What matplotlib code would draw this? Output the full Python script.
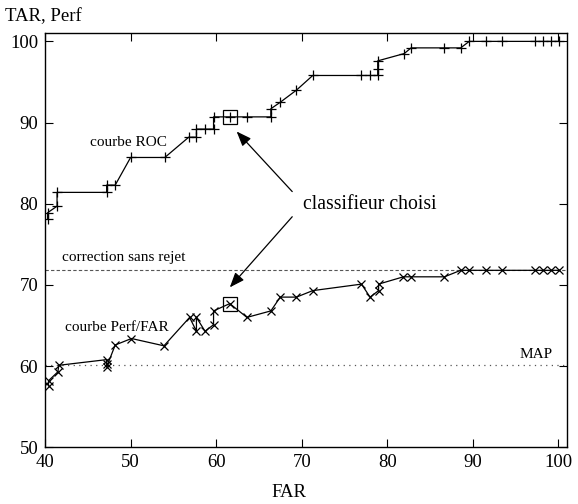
import matplotlib
matplotlib.use("Agg")
import matplotlib.pyplot as plt

plt.rcParams["font.family"] = ["Liberation Serif", "DejaVu Serif"]

# ROC curve (FAR, TAR)
roc_far = [40.3, 40.3, 41.4, 41.4, 47.2, 47.2, 48.2, 50.0, 54.0, 56.8, 57.7, 57.7,
           58.7, 59.7, 59.7, 61.6, 63.6, 66.4, 66.4, 67.5, 69.4, 71.3, 77.0, 78.0,
           78.9, 78.9, 78.9, 82.0, 82.8, 86.7, 88.6, 89.6, 91.6, 93.4, 97.3, 98.2,
           99.2, 100.1]
roc_tar = [78.1, 78.9, 79.7, 81.4, 81.4, 82.3, 82.3, 85.7, 85.7, 88.2, 88.2, 89.2,
           89.2, 89.2, 90.7, 90.7, 90.7, 90.7, 91.7, 92.5, 94.0, 95.8, 95.8, 95.8,
           95.8, 96.6, 97.6, 98.5, 99.2, 99.2, 99.2, 100.0, 100.0, 100.0, 100.0,
           100.0, 100.0, 100.0]

# Perf/FAR curve
perf_far = [40.4, 40.4, 41.5, 41.6, 47.2, 47.2, 47.2, 48.2, 50.1, 53.9, 56.9, 57.7,
            57.7, 58.7, 59.7, 59.7, 61.6, 63.6, 66.4, 67.5, 69.4, 71.3, 77.0, 78.0,
            79.0, 79.0, 81.9, 82.8, 86.7, 88.6, 89.6, 91.6, 93.4, 97.3, 98.2, 99.2,
            100.1]
perf_val = [57.6, 58.2, 59.3, 60.1, 60.8, 60.3, 59.9, 62.6, 63.4, 62.5, 66.0, 64.3,
            66.0, 64.3, 65.1, 66.8, 67.7, 66.0, 66.8, 68.5, 68.5, 69.3, 70.1, 68.5,
            69.3, 70.1, 71.0, 71.0, 71.0, 71.8, 71.8, 71.8, 71.8, 71.8, 71.8, 71.8,
            71.8]

chosen_far = 61.6
chosen_roc = 90.7
chosen_perf = 67.7

no_reject = 71.9
map_level = 60.15

xticks = [40, 50, 60, 70, 80, 90, 100]
yticks = [50, 60, 70, 80, 90, 100]

fig = plt.figure(figsize=(5.78, 5.04), dpi=100)
ax = fig.add_axes([0.078, 0.1125, 0.9025, 0.8215])

ax.axhline(no_reject, color="#555555", lw=0.8, ls=(0, (3, 2)))
ax.axhline(map_level, color="#555555", lw=0.9, ls=(0, (1, 3.5)))

ax.plot(roc_far, roc_tar, color="black", lw=0.9, marker="+", ms=7, mew=0.9)
ax.plot(perf_far, perf_val, color="black", lw=0.9, marker="x", ms=6, mew=0.9)

ax.plot([chosen_far, chosen_far], [chosen_roc, chosen_perf], ls="none", marker="s",
        ms=9.5, mfc="none", mec="black", mew=0.9)

ax.text(41.95, 73.4, "correction sans rejet", fontsize=11, va="center")
ax.text(99.4, 61.4, "MAP", fontsize=11, va="center", ha="right")
ax.text(45.25, 87.5, "courbe ROC", fontsize=11, va="center")
ax.text(42.35, 64.8, "courbe Perf/FAR", fontsize=11, va="center")
ax.text(70.2, 79.9, "classifieur choisi", fontsize=14.2, va="center")

arrow = dict(arrowstyle="-|>,head_length=0.9,head_width=0.35", color="black",
             lw=0.9, shrinkA=0, shrinkB=0)
ax.annotate("", xy=(62.4, 88.9), xytext=(68.9, 81.5), arrowprops=arrow)
ax.annotate("", xy=(61.6, 69.7), xytext=(68.9, 78.4), arrowprops=arrow)

ax.set_xlim(40, 101)
ax.set_ylim(50, 101)
ax.set_xticks(xticks)
ax.set_yticks(yticks)
ax.tick_params(direction="in", top=True, right=True, length=6, width=0.8,
               labelsize=13.5)
ax.tick_params(axis="x", pad=5)
ax.tick_params(axis="y", pad=5)
for s in ax.spines.values():
    s.set_linewidth(1.0)

fig.text(0.009, 0.968, "TAR, Perf", fontsize=13.5, va="center")
fig.text(0.5, 0.022, "FAR", fontsize=13.5, ha="center", va="center")

fig.savefig("out.png", dpi=100)
